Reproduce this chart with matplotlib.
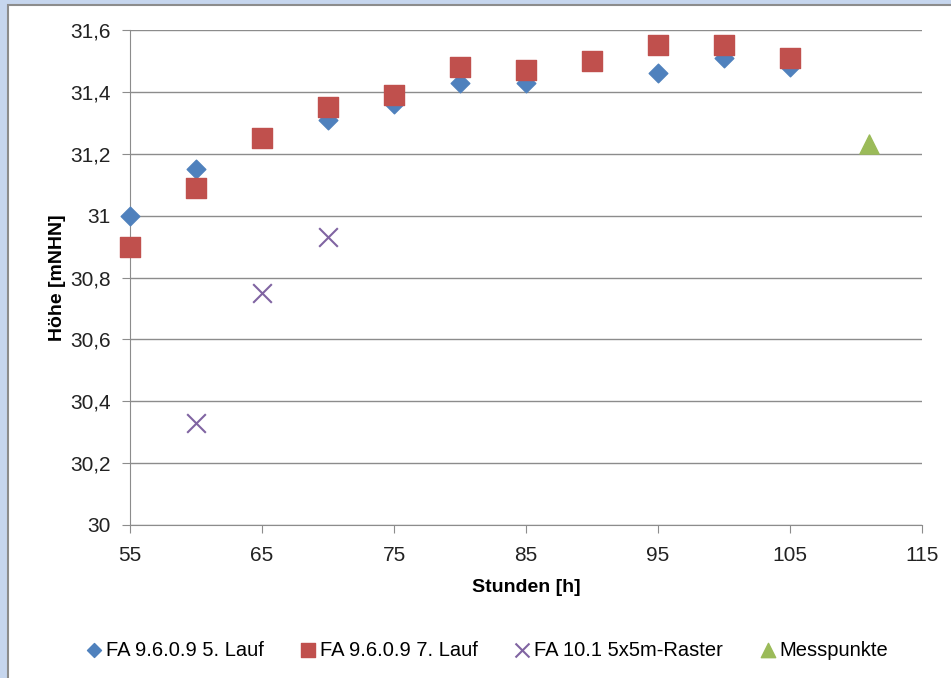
import numpy as np
import matplotlib.pyplot as plt
from matplotlib.ticker import FuncFormatter
from matplotlib.patches import Rectangle

plt.rcParams['font.family'] = ['Liberation Sans', 'DejaVu Sans']

# data
hours = [55, 60, 65, 70, 75, 80, 85, 90, 95, 100, 105]
lauf5 = [31.00, 31.15, 31.25, 31.31, 31.36, 31.43, 31.43, 31.50, 31.46, 31.51, 31.48]
lauf7 = [30.90, 31.09, 31.25, 31.35, 31.39, 31.48, 31.47, 31.50, 31.55, 31.55, 31.51]
raster_h = [60, 65, 70]
raster = [30.33, 30.75, 30.93]
mess_h = [111]
mess = [31.23]

fig = plt.figure(figsize=(9.51, 6.78), dpi=100)
W, H = 951, 678

# window frame (light blue strip + gray border)
fig.patches.append(Rectangle((0, 0), 1, 1, transform=fig.transFigure,
                             facecolor='#c6d6ee', edgecolor='none', zorder=-3))
fig.patches.append(Rectangle((8/W, -0.1), 1.2, 1 - 5/H + 0.1, transform=fig.transFigure,
                             facecolor='white', edgecolor='#8c8c8c', linewidth=1.5, zorder=-2))

ax = fig.add_axes([130/W, 1 - 525/H, (922 - 130)/W, (525 - 30)/H])
ax.set_facecolor('none')

ax.scatter(hours, lauf5, marker='D', s=90, color='#4f81bd', zorder=3, clip_on=False,
           label='FA 9.6.0.9 5. Lauf')
ax.scatter(hours, lauf7, marker='s', s=190, color='#c0504d', zorder=4, clip_on=False,
           label='FA 9.6.0.9 7. Lauf')
ax.scatter(raster_h, raster, marker='x', s=180, color='#8064a2', linewidths=1.5, zorder=3,
           clip_on=False, label='FA 10.1 5x5m-Raster')
ax.scatter(mess_h, mess, marker='^', s=190, color='#9bbb59', zorder=3, clip_on=False,
           label='Messpunkte')

ax.set_xlim(55, 115)
ax.set_ylim(30, 31.6)
ax.set_xticks(np.arange(55, 116, 10))
ax.set_yticks(np.arange(30, 31.61, 0.2))
ax.yaxis.set_major_formatter(FuncFormatter(lambda v, p: ('%.1f' % v).replace('.', ',').replace(',0', '')))

ax.grid(axis='y', color='#8c8c8c', linewidth=1)
ax.set_axisbelow(True)
for s in ['top', 'right']:
    ax.spines[s].set_visible(False)
for s in ['left', 'bottom']:
    ax.spines[s].set_color('#8c8c8c')
ax.tick_params(axis='both', colors='#8c8c8c', labelcolor='#222222', labelsize=15, length=6)
ax.tick_params(axis='x', pad=9)
ax.tick_params(axis='y', pad=8)

ax.set_xlabel('Stunden [h]', fontsize=14, fontweight='bold', labelpad=10)
ax.set_ylabel('Höhe [mNHN]', fontsize=14, fontweight='bold', labelpad=3)

fig.legend(loc='center', bbox_to_anchor=(0.51, 1 - 650/H), ncol=4, frameon=False,
           fontsize=14.5, handletextpad=0.0, handlelength=1.2, columnspacing=1.6,
           markerscale=0.75)

fig.savefig('out.png', dpi=100)
